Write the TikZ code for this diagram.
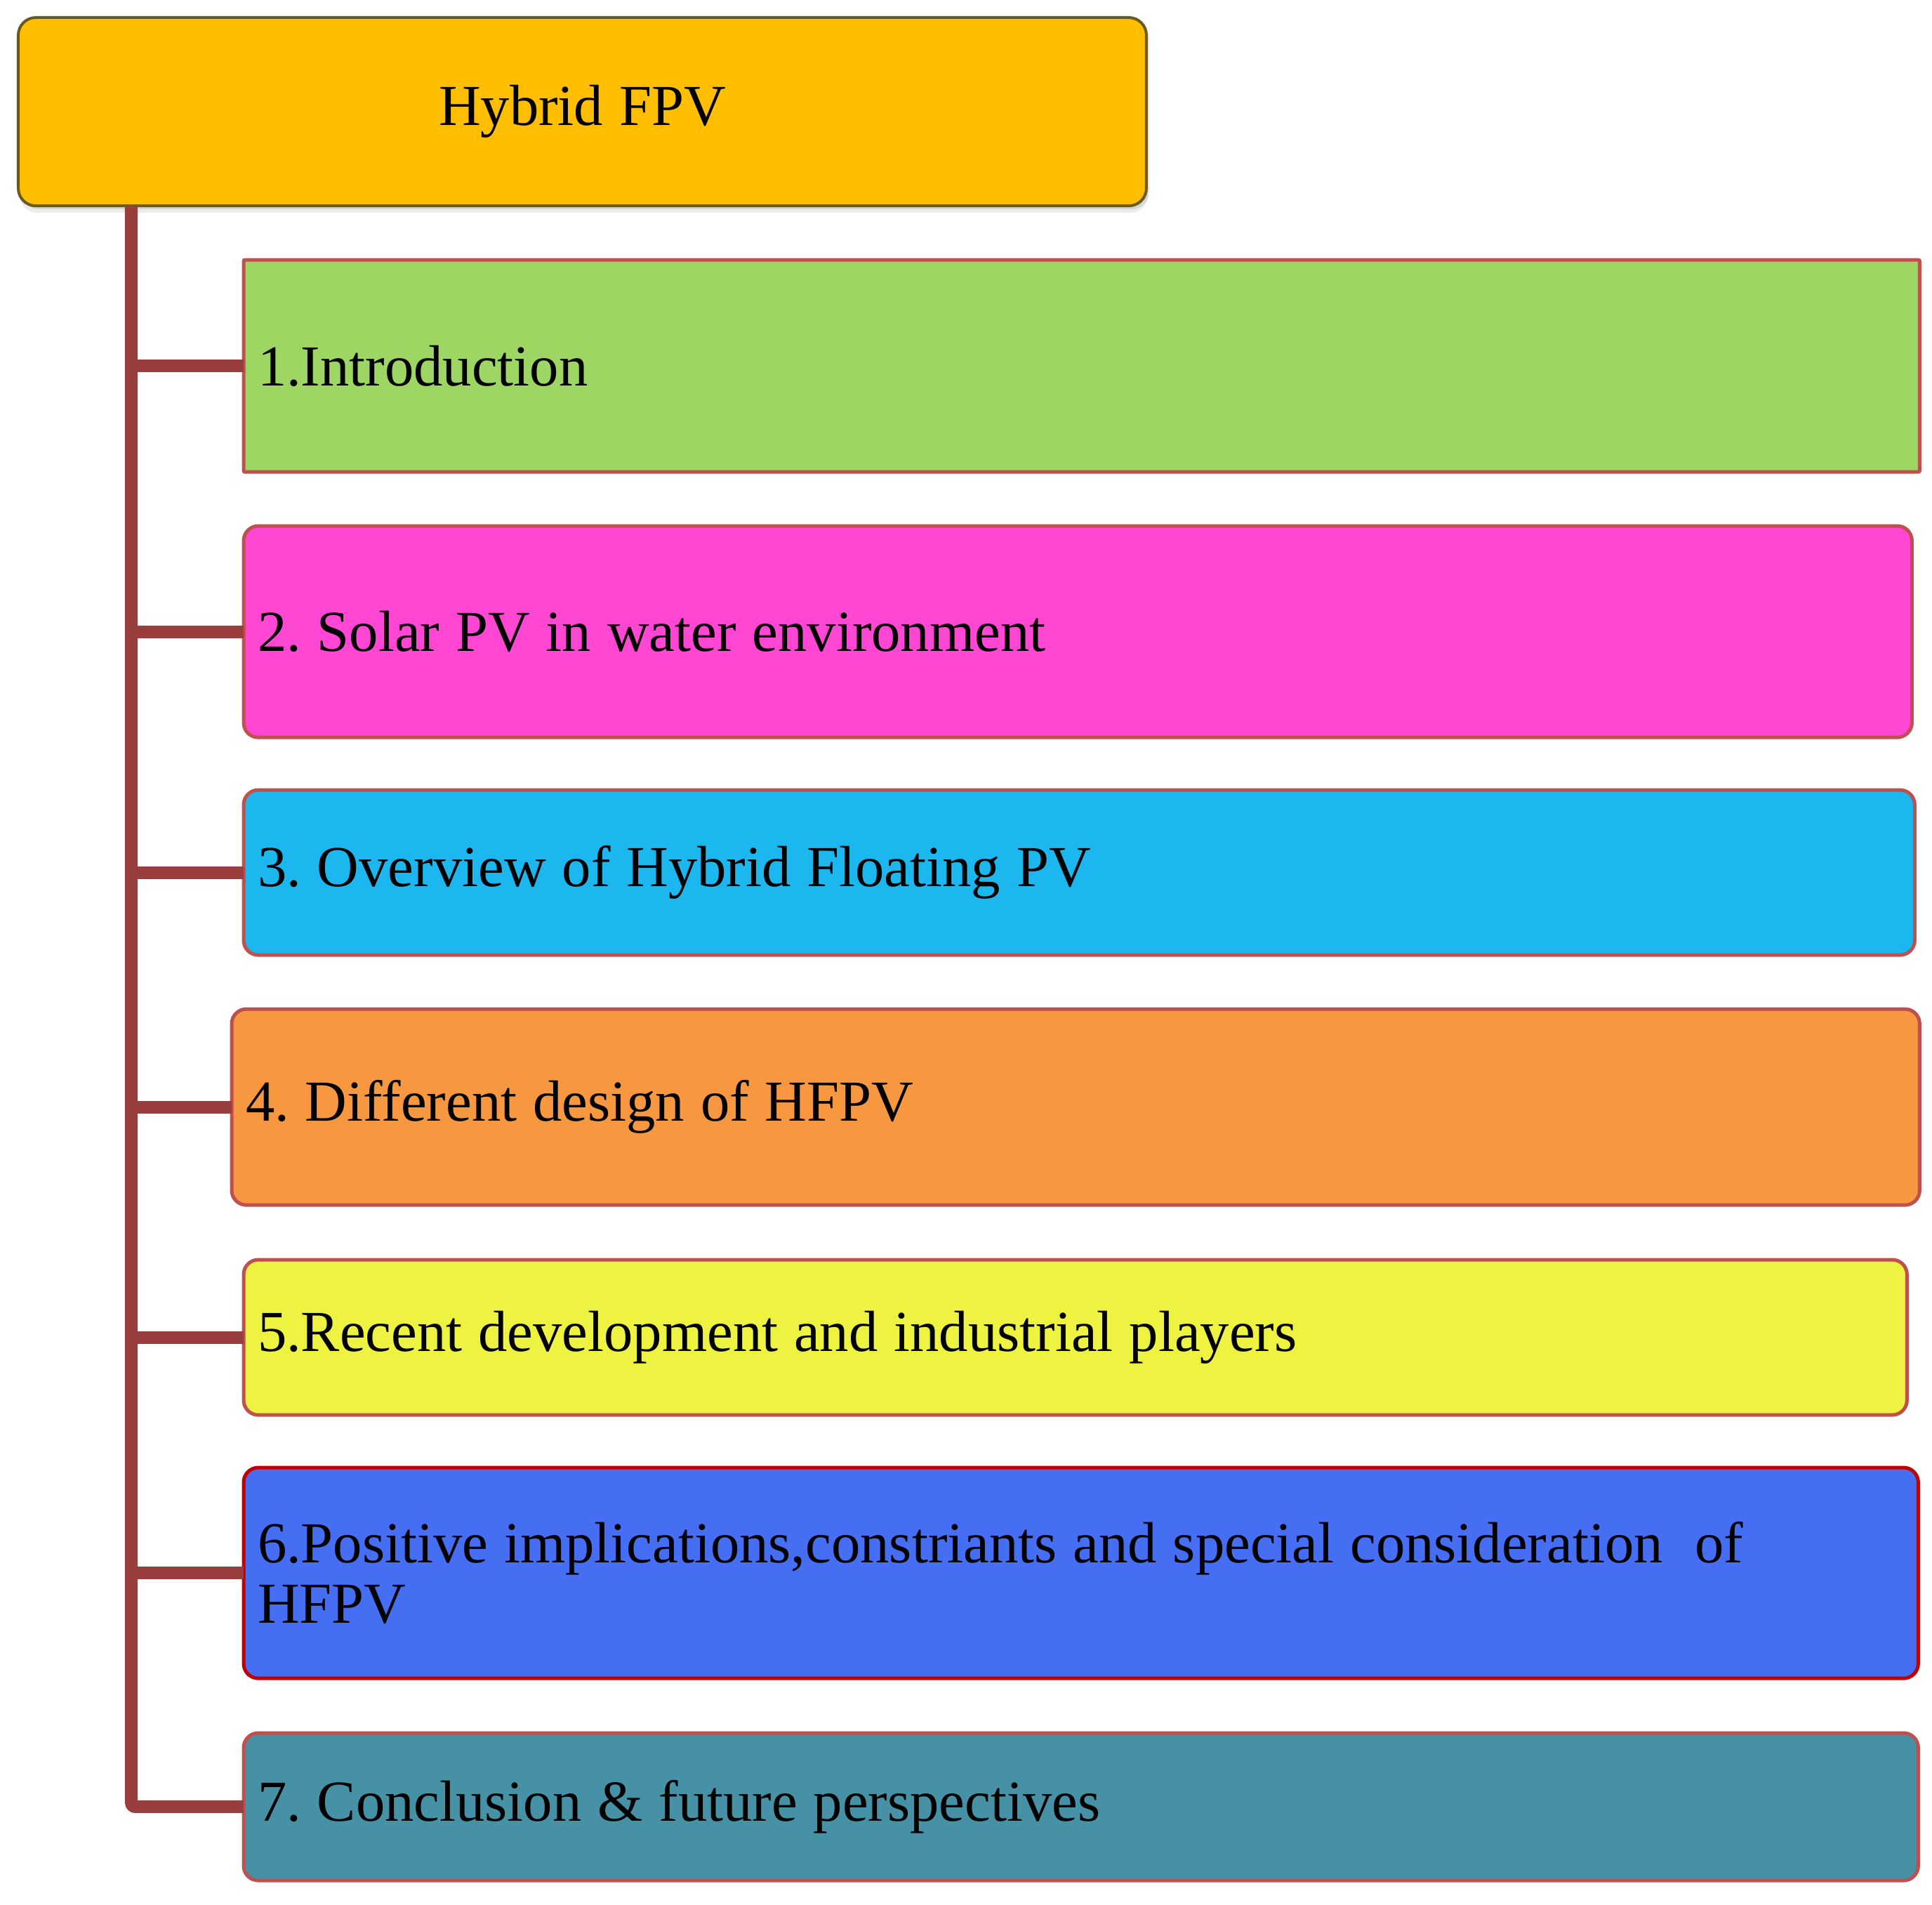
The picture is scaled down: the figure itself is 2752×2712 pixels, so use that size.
\documentclass[tikz,border=0pt]{standalone}
\usepackage{fontspec}
\setmainfont{Liberation Serif}
\usetikzlibrary{shadows}
\definecolor{goldf}{HTML}{FFBE00}
\definecolor{goldb}{HTML}{6B5A1E}
\definecolor{c1}{HTML}{9DD663}
\definecolor{c2}{HTML}{FF47D4}
\definecolor{c3}{HTML}{1BB7EE}
\definecolor{c4}{HTML}{F79841}
\definecolor{c5}{HTML}{EEF241}
\definecolor{c6}{HTML}{456EF2}
\definecolor{c7}{HTML}{4691A6}
\definecolor{bred}{HTML}{C0504D}
\definecolor{bdark}{HTML}{C00000}
\definecolor{conn}{HTML}{993D3D}
\newcommand{\tightsp}{\spaceskip=0.278em\relax\xspaceskip=0.278em\relax}
\begin{document}
\begin{tikzpicture}[x=0.01cm,y=-0.01cm,
  itembox/.style={draw=bred, line width=0.05cm, rounded corners=0.21cm, anchor=north west,
    inner xsep=0.2cm, inner ysep=0pt, outer sep=0pt,
    font=\fontsize{23.5pt}{24.5pt}\selectfont\frenchspacing},
  connline/.style={draw=conn, line width=0.18cm}]
\useasboundingbox (0,0) rectangle (2752,2712);
\node[draw=goldb, fill=goldf, line width=0.04cm, rounded corners=0.25cm, anchor=north west,
  minimum width=16.06cm, minimum height=2.68cm, outer sep=0pt,
  drop shadow={shadow xshift=0.02cm, shadow yshift=-0.1cm, opacity=0.15},
  drop shadow={shadow xshift=0.04cm, shadow yshift=-0.05cm, opacity=0.2},
  font=\fontsize{23.5pt}{24.5pt}\selectfont] (top) at (26,25) {\tightsp Hybrid FPV};
\node[itembox, rounded corners=0.02cm, fill=c1, minimum width=23.86cm, minimum height=3.02cm, text width=23.46cm] (b1) at (347,370) {\tightsp 1.Introduction};
\node[itembox, fill=c2, minimum width=23.75cm, minimum height=3.01cm, text width=23.35cm] (b2) at (347,749) {\tightsp 2. Solar PV in water environment};
\node[itembox, fill=c3, minimum width=23.79cm, minimum height=2.35cm, text width=23.39cm] (b3) at (347,1125) {\tightsp 3. Overview of Hybrid Floating PV};
\node[itembox, fill=c4, minimum width=24.03cm, minimum height=2.79cm, text width=23.63cm] (b4) at (330,1437) {\tightsp 4. Different design of HFPV};
\node[itembox, fill=c5, minimum width=23.68cm, minimum height=2.21cm, text width=23.28cm] (b5) at (347,1794) {\tightsp 5.Recent development and industrial players};
\node[itembox, draw=bdark, fill=c6, minimum width=23.84cm, minimum height=3.00cm, text width=23.44cm] (b6) at (347,2090) {\tightsp 6.Positive implications,constriants and special consideration\ \ of\\HFPV};
\node[itembox, fill=c7, minimum width=23.84cm, minimum height=2.10cm, text width=23.44cm] (b7) at (347,2468) {\tightsp 7. Conclusion \& future perspectives};
\coordinate (t) at (187,293);
\draw[connline, rounded corners=0.06cm] (t) |- (b7.west);
\foreach \b in {b1,b2,b3,b4,b5,b6}{
  \draw[connline] (\b.west -| t) -- (\b.west);
}
\end{tikzpicture}
\end{document}
